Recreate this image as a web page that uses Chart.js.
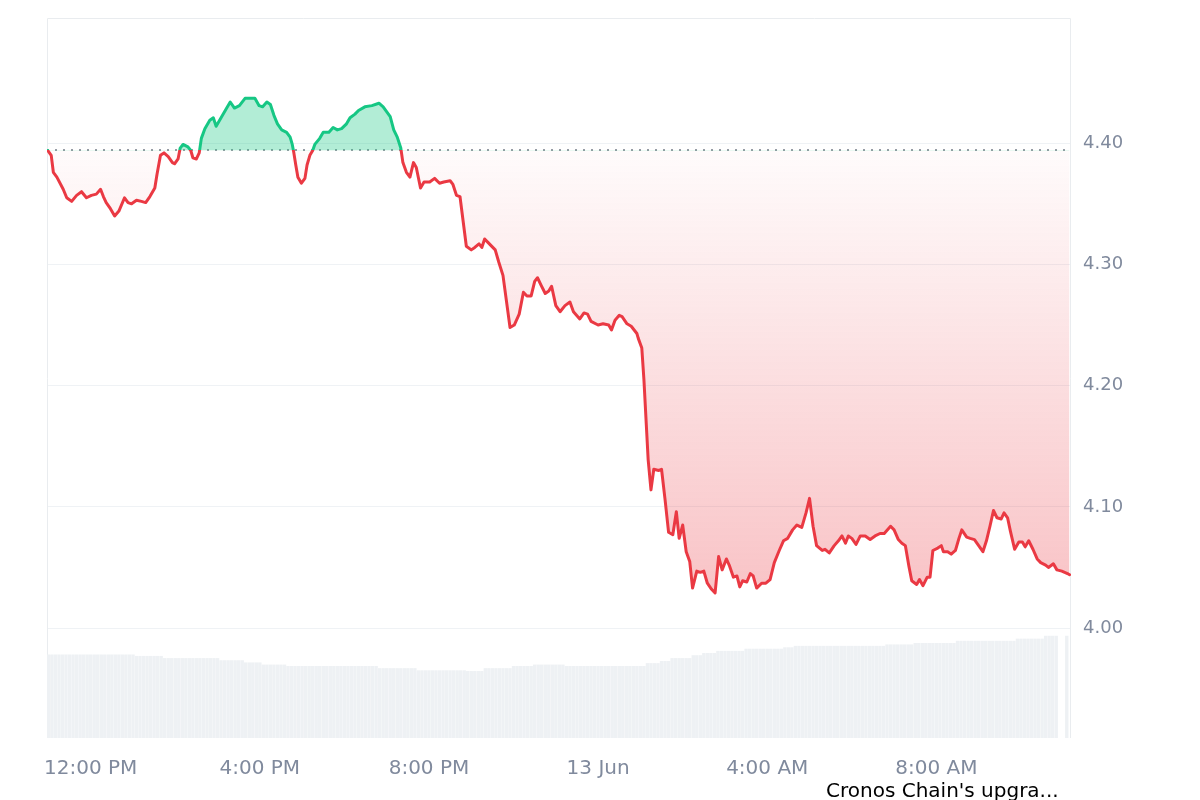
<!DOCTYPE html>
<html>
<head>
<meta charset="utf-8">
<title>CRO price - 24h</title>
<script src="https://cdn.jsdelivr.net/npm/chart.js@4.4.1/dist/chart.umd.min.js"></script>
<style>
  html, body { margin: 0; padding: 0; background: #fff; }
  #wrap { width: 1200px; height: 800px; position: relative; }
</style>
</head>
<body>
<div id="wrap"><canvas id="priceChart"></canvas></div>
<script>
// Time in minutes from 12:00 PM (12 Jun), price in USD
const times = [
  -61, -56, -53, -48, -39, -34, -27, -20, -13, -6, 1, 8, 14, 18, 22, 28, 34, 40, 48, 53,
  58, 65, 72, 78, 84, 91, 94, 99, 104, 110, 116, 119, 124, 127, 131, 138, 142, 145, 150, 154,
  157, 162, 169, 174, 178, 186, 193, 198, 204, 211, 219, 226, 233, 239, 244, 250, 255, 260, 265, 271,
  278, 283, 286, 288, 291, 294, 299, 304, 307, 311, 315, 318, 325, 330, 338, 344, 350, 356, 363, 368,
  375, 380, 389, 399, 409, 415, 425, 430, 435, 440, 443, 448, 453, 458, 462, 468, 473, 481, 488, 495,
  501, 510, 514, 519, 524, 533, 540, 545, 551, 555, 559, 564, 574, 579, 585, 595, 601, 608, 614, 619,
  625, 630, 634, 639, 645, 650, 654, 660, 666, 673, 680, 685, 694, 700, 705, 710, 720, 727, 735, 739,
  744, 750, 754, 761, 767, 775, 777, 782, 785, 789, 791, 795, 799, 806, 810, 815, 820, 826, 831, 835,
  840, 845, 850, 854, 860, 865, 870, 875, 881, 886, 891, 896, 902, 906, 912, 917, 921, 925, 931, 936,
  940, 945, 952, 958, 964, 970, 977, 983, 989, 996, 1002, 1009, 1015, 1020, 1025, 1030, 1038, 1042, 1048, 1055,
  1061, 1066, 1071, 1075, 1080, 1086, 1092, 1099, 1106, 1113, 1120, 1126, 1135, 1140, 1146, 1151, 1156, 1161, 1165, 1172,
  1176, 1181, 1187, 1191, 1195, 1202, 1207, 1210, 1216, 1221, 1227, 1232, 1236, 1243, 1248, 1254, 1260, 1266, 1271, 1276,
  1281, 1286, 1292, 1296, 1301, 1305, 1311, 1317, 1322, 1326, 1331, 1337, 1343, 1348, 1355, 1359, 1366, 1371, 1378, 1386,
  1389
];
const prices = [
  4.394, 4.390, 4.376, 4.372, 4.362, 4.355, 4.352, 4.357, 4.360, 4.355, 4.357, 4.358, 4.362, 4.356, 4.351, 4.346, 4.340, 4.344, 4.355, 4.351,
  4.350, 4.353, 4.352, 4.351, 4.356, 4.363, 4.374, 4.390, 4.392, 4.389, 4.384, 4.383, 4.387, 4.396, 4.399, 4.397, 4.394, 4.388, 4.387, 4.392,
  4.404, 4.412, 4.419, 4.421, 4.414, 4.422, 4.429, 4.434, 4.429, 4.431, 4.437, 4.437, 4.437, 4.431, 4.430, 4.434, 4.432, 4.423, 4.416, 4.411,
  4.409, 4.405, 4.399, 4.393, 4.382, 4.372, 4.367, 4.371, 4.382, 4.390, 4.394, 4.399, 4.404, 4.409, 4.409, 4.413, 4.411, 4.412, 4.416, 4.421,
  4.424, 4.427, 4.430, 4.431, 4.433, 4.430, 4.422, 4.411, 4.405, 4.396, 4.384, 4.376, 4.372, 4.384, 4.380, 4.363, 4.368, 4.368, 4.371, 4.367,
  4.368, 4.369, 4.366, 4.357, 4.356, 4.315, 4.312, 4.314, 4.317, 4.314, 4.321, 4.318, 4.312, 4.302, 4.291, 4.248, 4.250, 4.259, 4.277, 4.274,
  4.274, 4.286, 4.289, 4.283, 4.276, 4.278, 4.282, 4.266, 4.261, 4.266, 4.269, 4.261, 4.255, 4.260, 4.259, 4.253, 4.250, 4.251, 4.250, 4.246,
  4.254, 4.258, 4.257, 4.251, 4.249, 4.243, 4.239, 4.231, 4.205, 4.161, 4.139, 4.114, 4.131, 4.130, 4.131, 4.106, 4.079, 4.077, 4.096, 4.074,
  4.085, 4.063, 4.055, 4.033, 4.047, 4.046, 4.047, 4.037, 4.032, 4.029, 4.059, 4.048, 4.057, 4.052, 4.042, 4.043, 4.034, 4.039, 4.038, 4.045,
  4.043, 4.033, 4.037, 4.037, 4.040, 4.054, 4.064, 4.072, 4.074, 4.081, 4.085, 4.083, 4.095, 4.107, 4.084, 4.068, 4.064, 4.065, 4.062, 4.068,
  4.072, 4.076, 4.070, 4.076, 4.074, 4.069, 4.076, 4.076, 4.073, 4.076, 4.078, 4.078, 4.084, 4.081, 4.073, 4.070, 4.068, 4.051, 4.039, 4.036,
  4.040, 4.035, 4.042, 4.042, 4.064, 4.066, 4.068, 4.063, 4.063, 4.061, 4.064, 4.074, 4.081, 4.075, 4.074, 4.073, 4.068, 4.063, 4.072, 4.084,
  4.097, 4.091, 4.090, 4.095, 4.091, 4.080, 4.065, 4.071, 4.071, 4.067, 4.072, 4.065, 4.057, 4.054, 4.052, 4.050, 4.053, 4.048, 4.047, 4.045,
  4.044
];

// Volume bars, one every 5 minutes starting at 11:00 AM (values in M)
const volStart = -60;
const volStep = 5;
const volume = [
  11.6, 11.6, 11.6, 11.6, 11.6, 11.6, 11.6, 11.6, 11.6, 11.6,
  11.6, 11.6, 11.6, 11.6, 11.6, 11.6, 11.6, 11.6, 11.6, 11.6,
  11.6, 11.6, 11.6, 11.6, 11.6,
  11.4, 11.4, 11.4, 11.4, 11.4, 11.4, 11.4, 11.4,
  11.1, 11.1, 11.1, 11.1, 11.1, 11.1, 11.1, 11.1, 11.1, 11.1, 11.1, 11.1, 11.1, 11.1, 11.1, 11.1,
  10.8, 10.8, 10.8, 10.8, 10.8, 10.8, 10.8,
  10.5, 10.5, 10.5, 10.5, 10.5,
  10.2, 10.2, 10.2, 10.2, 10.2, 10.2, 10.2,
  10.0, 10.0, 10.0, 10.0, 10.0, 10.0, 10.0, 10.0, 10.0, 10.0, 10.0, 10.0, 10.0,
  10.0, 10.0, 10.0, 10.0, 10.0, 10.0, 10.0, 10.0, 10.0, 10.0, 10.0, 10.0, 10.0,
  9.7, 9.7, 9.7, 9.7, 9.7, 9.7, 9.7, 9.7, 9.7, 9.7, 9.7,
  9.4, 9.4, 9.4, 9.4, 9.4, 9.4, 9.4, 9.4, 9.4, 9.4, 9.4, 9.4, 9.4, 9.4,
  9.3, 9.3, 9.3, 9.3, 9.3,
  9.7, 9.7, 9.7, 9.7, 9.7, 9.7, 9.7, 9.7,
  10.0, 10.0, 10.0, 10.0, 10.0, 10.0,
  10.2, 10.2, 10.2, 10.2, 10.2, 10.2, 10.2, 10.2, 10.2,
  10.0, 10.0, 10.0, 10.0, 10.0, 10.0, 10.0, 10.0, 10.0, 10.0, 10.0, 10.0,
  10.0, 10.0, 10.0, 10.0, 10.0, 10.0, 10.0, 10.0, 10.0, 10.0, 10.0,
  10.4, 10.4, 10.4, 10.4,
  10.7, 10.7, 10.7,
  11.1, 11.1, 11.1, 11.1, 11.1, 11.1,
  11.5, 11.5, 11.5,
  11.8, 11.8, 11.8, 11.8,
  12.1, 12.1, 12.1, 12.1, 12.1, 12.1, 12.1, 12.1,
  12.4, 12.4, 12.4, 12.4, 12.4, 12.4, 12.4, 12.4, 12.4, 12.4, 12.4,
  12.6, 12.6, 12.6,
  12.8, 12.8, 12.8, 12.8, 12.8, 12.8, 12.8, 12.8, 12.8, 12.8, 12.8, 12.8, 12.8,
  12.8, 12.8, 12.8, 12.8, 12.8, 12.8, 12.8, 12.8, 12.8, 12.8, 12.8, 12.8, 12.8,
  13.0, 13.0, 13.0, 13.0, 13.0, 13.0, 13.0, 13.0,
  13.2, 13.2, 13.2, 13.2, 13.2, 13.2, 13.2, 13.2, 13.2, 13.2, 13.2, 13.2,
  13.5, 13.5, 13.5, 13.5, 13.5, 13.5, 13.5, 13.5, 13.5, 13.5, 13.5, 13.5, 13.5, 13.5, 13.5, 13.5, 13.5,
  13.8, 13.8, 13.8, 13.8, 13.8, 13.8, 13.8, 13.8,
  14.2, 14.2, 14.2, 14.2,
  null, null,
  14.2
];

const xTicks = [0, 240, 480, 720, 960, 1200];
const xTickLabels = ['12:00 PM', '4:00 PM', '8:00 PM', '13 Jun', '4:00 AM', '8:00 AM'];
const yTicks = [4.0, 4.1, 4.2, 4.3, 4.4];
const newsLabel = "Cronos Chain's upgra...";

const basePrice = prices[0];
const GREEN = '#16c784';
const RED = '#ea3943';
const GRID = '#eff2f5';
const TICK_COLOR = '#808a9d';
const FONT = '"DejaVu Sans", sans-serif';

Chart.defaults.font.family = FONT;

// line colour switches exactly where it crosses the opening price
function splitGradient(chart) {
    const { ctx, chartArea, scales } = chart;
    if (!chartArea) return RED;
    const top = chartArea.top, bottom = chartArea.bottom;
    let stop = (scales.y.getPixelForValue(basePrice) - top) / (bottom - top);
    stop = Math.min(1, Math.max(0, stop));
    const g = ctx.createLinearGradient(0, top, 0, bottom);
    g.addColorStop(0, GREEN);
    g.addColorStop(stop, GREEN);
    g.addColorStop(stop, RED);
    g.addColorStop(1, RED);
    return g;
}

// red area under the opening price fades in towards the low
function belowGradient(chart) {
    const { ctx, chartArea, scales } = chart;
    if (!chartArea) return 'rgba(234,57,67,0.1)';
    const y0 = scales.y.getPixelForValue(basePrice);
    const y1 = scales.y.getPixelForValue(Math.min(...prices));
    const g = ctx.createLinearGradient(0, y0, 0, y1);
    g.addColorStop(0, 'rgba(234,57,67,0.02)');
    g.addColorStop(1, 'rgba(234,57,67,0.30)');
    return g;
}

const framePlugin = {
    id: 'frame',
    beforeDatasetsDraw(chart) {
        const { ctx, chartArea: a, scales } = chart;
        ctx.save();
        ctx.strokeStyle = '#e9ecef';
        ctx.lineWidth = 1;
        ctx.beginPath();
        ctx.moveTo(a.left + 0.5, a.bottom);
        ctx.lineTo(a.left + 0.5, a.top + 0.5);
        ctx.lineTo(a.right - 0.5, a.top + 0.5);
        ctx.lineTo(a.right - 0.5, a.bottom);
        ctx.stroke();

        // dotted line at the opening price
        const by = Math.round(scales.y.getPixelForValue(basePrice));
        ctx.strokeStyle = '#979ca5';
        ctx.lineWidth = 2;
        ctx.setLineDash([2, 6]);
        ctx.beginPath();
        ctx.moveTo(a.left, by);
        ctx.lineTo(a.right, by);
        ctx.stroke();
        ctx.restore();
    },
    afterDraw(chart) {
        const { ctx } = chart;
        ctx.save();
        ctx.fillStyle = '#000';
        ctx.font = '20px ' + FONT;
        ctx.textBaseline = 'alphabetic';
        ctx.fillText(newsLabel, 826, 797);
        ctx.restore();
    }
};

const ctx = document.getElementById('priceChart').getContext('2d');
window.priceChart = new Chart(ctx, {
    type: 'line',
    data: {
        datasets: [
            {
                type: 'line',
                label: 'Price',
                data: times.map((t, i) => ({ x: t, y: prices[i] })),
                yAxisID: 'y',
                borderWidth: 3,
                pointRadius: 0,
                tension: 0,
                borderJoinStyle: 'round',
                borderCapStyle: 'round',
                borderColor: c => splitGradient(c.chart),
                backgroundColor: c => belowGradient(c.chart),
                fill: { target: { value: basePrice }, above: 'rgba(22,199,132,0.33)' },
                order: 0
            },
            {
                type: 'bar',
                label: 'Volume',
                data: volume.map((v, i) => ({ x: volStart + i * volStep, y: v })),
                yAxisID: 'yv',
                backgroundColor: '#eef1f4',
                barPercentage: 1,
                categoryPercentage: 0.96,
                order: 1
            }
        ]
    },
    options: {
        responsive: true,
        maintainAspectRatio: false,
        animation: false,
        layout: { padding: { left: 47, top: 18, right: 0, bottom: 0 } },
        plugins: {
            legend: { display: false },
            tooltip: { enabled: false }
        },
        scales: {
            x: {
                type: 'linear',
                min: -62,
                max: 1391,
                offset: false,
                grid: { display: false, offset: false },
                border: { display: false },
                afterBuildTicks: s => { s.ticks = xTicks.map(v => ({ value: v })); },
                afterFit: s => { s.height = 62; s.paddingLeft = 0; s.paddingRight = 0; },
                ticks: {
                    autoSkip: false,
                    maxRotation: 0,
                    padding: 11,
                    color: TICK_COLOR,
                    font: { size: 20 },
                    callback: v => xTickLabels[xTicks.indexOf(v)]
                }
            },
            y: {
                position: 'right',
                min: 3.9093,
                max: 4.5033,
                grid: { color: GRID, drawTicks: false },
                border: { display: false },
                afterBuildTicks: s => { s.ticks = yTicks.map(v => ({ value: v })); },
                afterFit: s => { s.width = 129; s.paddingTop = 0; s.paddingBottom = 0; },
                ticks: {
                    padding: 12,
                    color: TICK_COLOR,
                    font: { size: 18 },
                    callback: v => v.toFixed(2)
                }
            },
            yv: {
                display: false,
                min: 0,
                max: 100
            }
        }
    },
    plugins: [framePlugin]
});
</script>
</body>
</html>
